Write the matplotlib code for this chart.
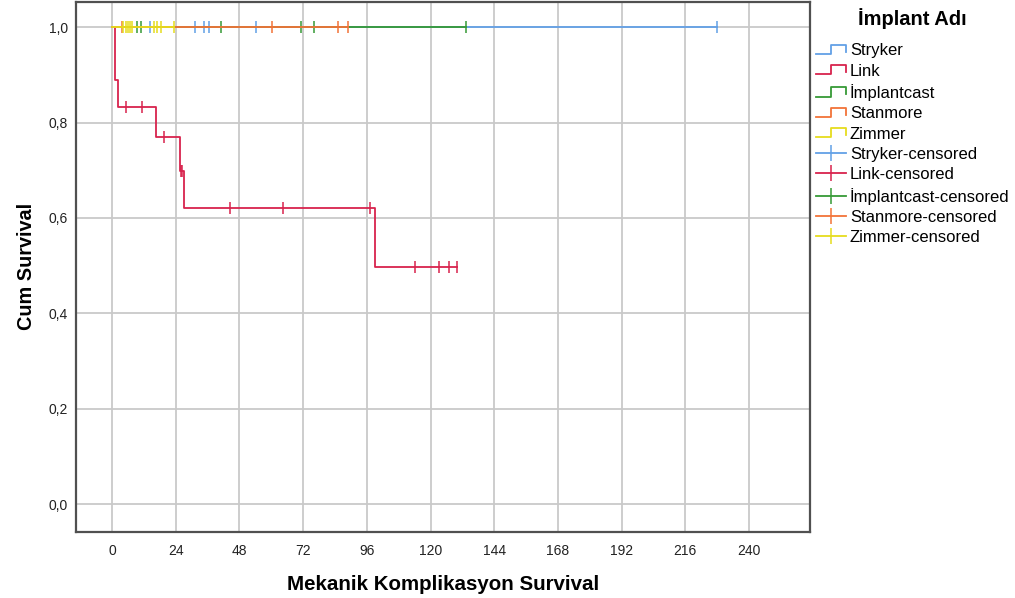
import matplotlib
matplotlib.use("Agg")
import matplotlib.pyplot as plt
import numpy as np
from matplotlib.lines import Line2D
from matplotlib.legend_handler import HandlerBase

plt.rcParams["font.family"] = ["Liberation Sans", "DejaVu Sans"]

# Groups and colours
groups = ["Stryker", "Link", "İmplantcast", "Stanmore", "Zimmer"]
group_colors = ["#62a0e6", "#d8234d", "#369a36", "#f27338", "#e6dc1e"]

# Kaplan-Meier steps (months): event times and survival after each event
stryker_events, stryker_surv = [], []
link_events = [1.2, 2.4, 16.5, 25.4, 27.2, 99.2]
link_surv = [0.889, 0.833, 0.769, 0.699, 0.621, 0.497]
implantcast_events, implantcast_surv = [], []
stanmore_events, stanmore_surv = [], []
zimmer_events, zimmer_surv = [], []

# Censored observation times (months)
stryker_censored = [14.2, 31.1, 34.6, 36.5, 54.1, 227.9]
link_censored = [5.4, 11.4, 19.5, 25.9, 26.5, 44.3, 64.3, 97.0, 114.2, 123.0, 127.1, 129.9]
implantcast_censored = [9.4, 11.0, 41.0, 71.2, 76.2, 133.4]
stanmore_censored = [3.6, 60.1, 85.0, 89.0]
zimmer_censored = [4.2, 5.1, 5.9, 6.8, 7.4, 15.8, 17.1, 18.3, 23.2]

x_ticks = [0, 24, 48, 72, 96, 120, 144, 168, 192, 216, 240]
y_ticks = [0.0, 0.2, 0.4, 0.6, 0.8, 1.0]
y_tick_labels = ["0,0", "0,2", "0,4", "0,6", "0,8", "1,0"]

events = [stryker_events, link_events, implantcast_events, stanmore_events, zimmer_events]
survs = [stryker_surv, link_surv, implantcast_surv, stanmore_surv, zimmer_surv]
censored = [stryker_censored, link_censored, implantcast_censored,
            stanmore_censored, zimmer_censored]


def survival_at(t, times, levels):
    idx = np.searchsorted(times, t, side="right")
    return 1.0 if idx == 0 else levels[idx - 1]


fig = plt.figure(figsize=(10.15, 5.98), dpi=100)
ax = fig.add_axes([0.0749, 0.1109, 0.7232, 0.8858])

for i, (name, col) in enumerate(zip(groups, group_colors)):
    ev, sv, cens = events[i], survs[i], censored[i]
    last = max(cens + ev)
    xs = [0.0] + list(ev) + [last]
    ys = [1.0] + list(sv) + [sv[-1] if sv else 1.0]
    ax.step(xs, ys, where="post", color=col, lw=1.3, zorder=3 + i)
    cy = [survival_at(t, ev, sv) for t in cens]
    ax.plot(cens, cy, ls="none", marker="|", markersize=9, mew=1.1,
            color=col, zorder=3 + i)

ax.set_xlim(-13.6, 263)
ax.set_ylim(-0.058, 1.053)
ax.set_xticks(x_ticks)
ax.set_yticks(y_ticks)
ax.set_yticklabels(y_tick_labels)
ax.tick_params(axis="both", length=0, labelsize=10, colors="#222222")
ax.tick_params(axis="x", pad=9)
ax.tick_params(axis="y", pad=6)
ax.grid(True, color="#c9c9c9", lw=1.3, zorder=0)
ax.set_axisbelow(True)
for s in ax.spines.values():
    s.set_color("#505050")
    s.set_linewidth(1.6)

ax.set_xlabel("Mekanik Komplikasyon Survival", fontsize=14.8, fontweight="bold",
              labelpad=12)
ax.set_ylabel("Cum Survival", fontsize=14.3, fontweight="bold", labelpad=9)


class StepHandler(HandlerBase):
    def create_artists(self, legend, orig_handle, xdescent, ydescent,
                       width, height, fontsize, trans):
        x0, y0 = -xdescent, -ydescent
        xs = [x0, x0 + 0.5 * width, x0 + 0.5 * width, x0 + width, x0 + width]
        ys = [y0 + 0.1 * height, y0 + 0.1 * height, y0 + 0.9 * height,
              y0 + 0.9 * height, y0 + 0.3 * height]
        ln = Line2D(xs, ys, color=orig_handle.get_color(), lw=1.3)
        ln.set_transform(trans)
        return [ln]


step_handles = [Line2D([], [], color=c, lw=1.3) for c in group_colors]
cens_handles = [Line2D([0], [0], color=c, lw=1.3, marker="|", markersize=12,
                       mew=1.1) for c in group_colors]
labels = groups + [g + "-censored" for g in groups]
handler_map = {h: StepHandler() for h in step_handles}
leg = fig.legend(step_handles + cens_handles, labels, handler_map=handler_map,
                 loc="upper left", bbox_to_anchor=(0.797, 0.997), frameon=False,
                 fontsize=12, title="İmplant Adı", handlelength=1.85,
                 handletextpad=0.2, labelspacing=0.32, borderaxespad=0,
                 numpoints=1)
leg.get_title().set_fontsize(14.5)
leg.get_title().set_fontweight("bold")
leg._legend_box.sep = 10

fig.savefig("out.png", dpi=100)
